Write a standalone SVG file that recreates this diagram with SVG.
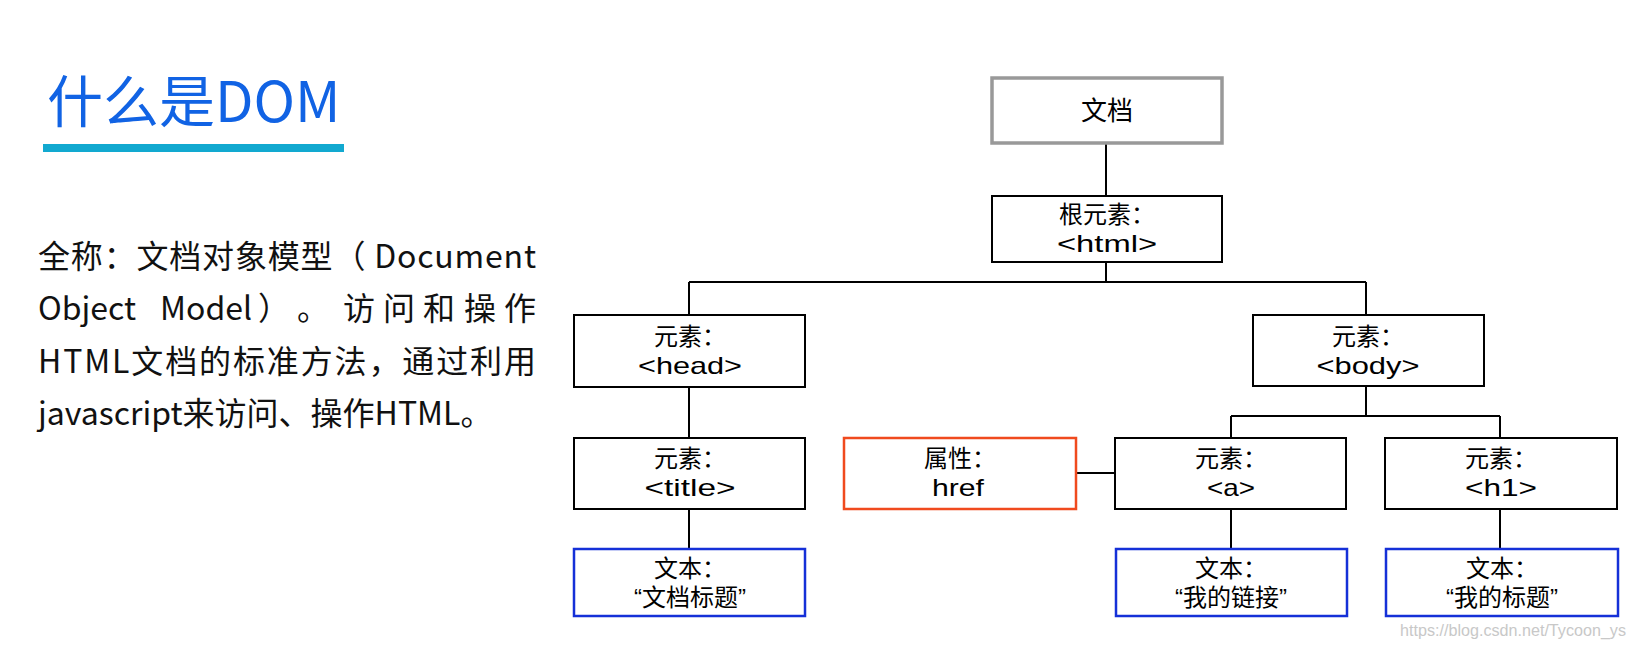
<svg xmlns="http://www.w3.org/2000/svg" width="1633" height="645" viewBox="0 0 1633 645">
<style>
.para{font-family:"Noto Sans CJK SC","Noto Sans",sans-serif;font-size:32px;fill:#111;}
.title{font-family:"Noto Sans CJK SC","Noto Sans",sans-serif;font-size:56px;fill:#1163e4;}
.box{fill:#fff;stroke:#000;stroke-width:2;}
.doc{fill:#fff;stroke:#999;stroke-width:3.5;}
.attr{fill:#fff;stroke:#f04a1e;stroke-width:2.5;}
.txt{fill:#fff;stroke:#1530d8;stroke-width:2.5;}
.lbl{font-family:"Liberation Sans","Noto Sans CJK SC",sans-serif;font-size:24px;fill:#000;text-anchor:middle;}
.conn line{stroke:#000;stroke-width:2;}
.wm{font-family:"Liberation Sans",sans-serif;font-size:16px;fill:#c8c8c8;}
</style>
<rect width="1633" height="645" fill="#fff"/>

<g id="heading">
<text class="title" x="47" y="122">什么是DOM</text>
<rect x="43" y="144" width="301" height="8" fill="#12a9d0"/>
</g>

<g id="description">
<text class="para" x="38" y="268" textLength="498" lengthAdjust="spacing">全称：文档对象模型（ Document</text>
<text class="para" y="320"><tspan x="38">Object</tspan><tspan x="160">Model</tspan><tspan x="258">）</tspan><tspan x="297">。</tspan><tspan x="343">访</tspan><tspan x="383">问</tspan><tspan x="423">和</tspan><tspan x="464">操</tspan><tspan x="504">作</tspan></text>
<text class="para" x="38" y="373" textLength="498" lengthAdjust="spacing">HTML文档的标准方法，通过利用</text>
<text class="para" x="38" y="425">javascript来访问、操作HTML。</text>
</g>

<g class="conn" id="connectors">
<line x1="1106" y1="143" x2="1106" y2="196"/>
<line x1="1106" y1="262" x2="1106" y2="282"/>
<line x1="689" y1="282" x2="1366" y2="282"/>
<line x1="689" y1="282" x2="689" y2="315"/>
<line x1="1366" y1="282" x2="1366" y2="315"/>
<line x1="689" y1="387" x2="689" y2="438"/>
<line x1="689" y1="509" x2="689" y2="549"/>
<line x1="1366" y1="386" x2="1366" y2="416"/>
<line x1="1231" y1="416" x2="1500" y2="416"/>
<line x1="1231" y1="416" x2="1231" y2="438"/>
<line x1="1500" y1="416" x2="1500" y2="438"/>
<line x1="1076" y1="473" x2="1115" y2="473"/>
<line x1="1231" y1="509" x2="1231" y2="549"/>
<line x1="1500" y1="509" x2="1500" y2="549"/>
</g>

<g id="document">
<rect class="doc" x="992" y="78" width="230" height="65"/>
<text class="lbl" x="1107" y="120" style="font-size:26px">文档</text>
</g>
<g id="root">
<rect class="box" x="992" y="196" width="230" height="66"/>
<text class="lbl" y="223"><tspan x="1107">根元素：</tspan><tspan x="1107" dy="29" textLength="100" lengthAdjust="spacingAndGlyphs">&lt;html&gt;</tspan></text>
</g>
<g id="head">
<rect class="box" x="574" y="315" width="231" height="72"/>
<text class="lbl" y="345"><tspan x="690">元素：</tspan><tspan x="690" dy="29" textLength="104" lengthAdjust="spacingAndGlyphs">&lt;head&gt;</tspan></text>
</g>
<g id="body">
<rect class="box" x="1253" y="315" width="231" height="71"/>
<text class="lbl" y="345"><tspan x="1368">元素：</tspan><tspan x="1368" dy="29" textLength="103" lengthAdjust="spacingAndGlyphs">&lt;body&gt;</tspan></text>
</g>
<g id="title">
<rect class="box" x="574" y="438" width="231" height="71"/>
<text class="lbl" y="467"><tspan x="690">元素：</tspan><tspan x="690" dy="29" textLength="91" lengthAdjust="spacingAndGlyphs">&lt;title&gt;</tspan></text>
</g>
<g id="href">
<rect class="attr" x="844" y="438" width="232" height="71"/>
<text class="lbl" y="467"><tspan x="960">属性：</tspan><tspan x="958" dy="29" textLength="52" lengthAdjust="spacingAndGlyphs">href</tspan></text>
</g>
<g id="a">
<rect class="box" x="1115" y="438" width="231" height="71"/>
<text class="lbl" y="467"><tspan x="1231">元素：</tspan><tspan x="1231" dy="29" textLength="48" lengthAdjust="spacingAndGlyphs">&lt;a&gt;</tspan></text>
</g>
<g id="h1">
<rect class="box" x="1385" y="438" width="232" height="71"/>
<text class="lbl" y="467"><tspan x="1501">元素：</tspan><tspan x="1501" dy="29" textLength="72" lengthAdjust="spacingAndGlyphs">&lt;h1&gt;</tspan></text>
</g>
<g id="text-title">
<rect class="txt" x="574" y="549" width="231" height="67"/>
<text class="lbl" y="577"><tspan x="690">文本：</tspan><tspan x="690" dy="29">“文档标题”</tspan></text>
</g>
<g id="text-a">
<rect class="txt" x="1116" y="549" width="231" height="67"/>
<text class="lbl" y="577"><tspan x="1231">文本：</tspan><tspan x="1231" dy="29">“我的链接”</tspan></text>
</g>
<g id="text-h1">
<rect class="txt" x="1386" y="549" width="232" height="67"/>
<text class="lbl" y="577"><tspan x="1502">文本：</tspan><tspan x="1502" dy="29">“我的标题”</tspan></text>
</g>

<text class="wm" x="1400" y="636" textLength="226" lengthAdjust="spacingAndGlyphs">https://blog.csdn.net/Tycoon_ys</text>
</svg>
